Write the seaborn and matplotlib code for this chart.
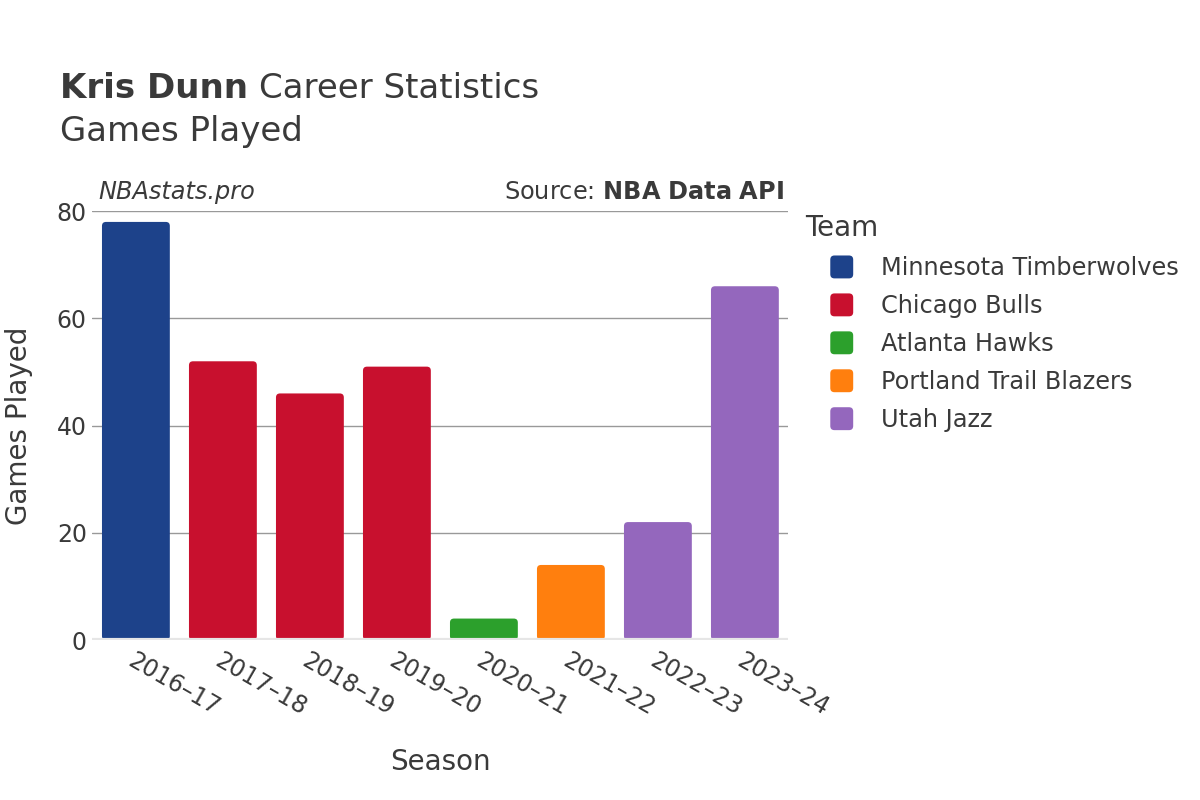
import matplotlib
matplotlib.use("Agg")
import matplotlib.pyplot as plt
import seaborn as sns
import pandas as pd
from matplotlib.patches import FancyBboxPatch, Patch
from matplotlib.legend_handler import HandlerPatch

seasons = ["2016–17", "2017–18", "2018–19", "2019–20", "2020–21", "2021–22", "2022–23", "2023–24"]
games = [78, 52, 46, 51, 4, 14, 22, 66]
teams = ["Minnesota Timberwolves", "Chicago Bulls", "Chicago Bulls", "Chicago Bulls",
         "Atlanta Hawks", "Portland Trail Blazers", "Utah Jazz", "Utah Jazz"]
team_order = ["Minnesota Timberwolves", "Chicago Bulls", "Atlanta Hawks", "Portland Trail Blazers", "Utah Jazz"]
team_colors = ["#1d428a", "#c8102e", "#2ca02c", "#ff7f0e", "#9467bd"]

df = pd.DataFrame({"season": seasons, "games": games, "team": teams})
palette = dict(zip(team_order, team_colors))

sns.set_style("white")
plt.rcParams["font.family"] = ["DejaVu Sans"]
text_color = "#3a3a3a"

fig = plt.figure(figsize=(12, 8), dpi=100)
ax = fig.add_axes([0.077, 0.2, 0.58, 0.536])

sns.barplot(data=df, x="season", y="games", hue="team", hue_order=team_order,
            palette=palette, dodge=False, width=0.78, legend=False, ax=ax, saturation=1)

# swap bars for rounded ones
rx = 0.046
aspect = 16.3
for bar in list(ax.patches):
    h = bar.get_height()
    if h <= 0:
        bar.remove()
        continue
    x0, w = bar.get_x(), bar.get_width()
    fb = FancyBboxPatch((x0, 0), w, h,
                        boxstyle=f"round,pad=0,rounding_size={rx}",
                        mutation_aspect=aspect,
                        facecolor=bar.get_facecolor(), edgecolor="none", zorder=2)
    bar.remove()
    ax.add_patch(fb)

ax.set_xlim(-0.5, 7.5)
ax.set_ylim(0, 80)
ax.set_yticks([0, 20, 40, 60, 80])
for y in [20, 40, 60, 80]:
    ax.axhline(y, color="#999999", lw=1, zorder=1)
ax.axhline(0, color="#e6e6e6", lw=3, zorder=3)
for s in ax.spines.values():
    s.set_visible(False)

ax.tick_params(axis="y", labelsize=17, labelcolor=text_color, length=0, pad=4)
ax.tick_params(axis="x", labelsize=17, labelcolor=text_color, length=0, pad=6)
ax.set_xticks(range(len(seasons)))
ax.set_xticklabels(seasons, rotation=-30, ha="left", rotation_mode="anchor")

ax.set_xlabel("Season", fontsize=20, color=text_color, labelpad=20)
ax.set_ylabel("Games Played", fontsize=20, color=text_color, labelpad=17)

t1 = fig.text(0.05, 0.889, "Kris Dunn", fontsize=24.5, fontweight="bold", color=text_color, va="center")
fig.canvas.draw()
bb = t1.get_window_extent()
fig.text(bb.x1 / fig.bbox.width + 0.009, 0.889, "Career Statistics", fontsize=24.5,
         color=text_color, va="center")
fig.text(0.05, 0.835, "Games Played", fontsize=24.5, color=text_color, va="center")

ax.text(0.008, 1.045, "NBAstats.pro", transform=ax.transAxes, fontsize=17.3,
        style="italic", color=text_color, va="center")
ax.text(0.994, 1.045, "Source: $\\bf{NBA\\ Data\\ API}$", transform=ax.transAxes,
        fontsize=17.3, color=text_color, va="center", ha="right")


def rounded_square(legend, orig_handle, xdescent, ydescent, width, height, fontsize):
    s = 16.5
    cx = -xdescent + width / 2 + 9
    cy = -ydescent + height / 2
    return FancyBboxPatch((cx - s / 2, cy - s / 2), s, s,
                          boxstyle="round,pad=0,rounding_size=3")


handles = [Patch(facecolor=c, edgecolor="none") for c in team_colors]
leg = fig.legend(handles, team_order, title="Team", loc="upper left",
                 bbox_to_anchor=(0.663, 0.744), frameon=False, fontsize=17.3,
                 title_fontsize=20, labelspacing=0.58, handletextpad=1.17,
                 handlelength=2.0, borderaxespad=0,
                 handler_map={Patch: HandlerPatch(patch_func=rounded_square)})
leg._legend_box.align = "left"
for t in leg.get_texts():
    t.set_color(text_color)
leg.get_title().set_color(text_color)

fig.savefig("out.png", dpi=100)
